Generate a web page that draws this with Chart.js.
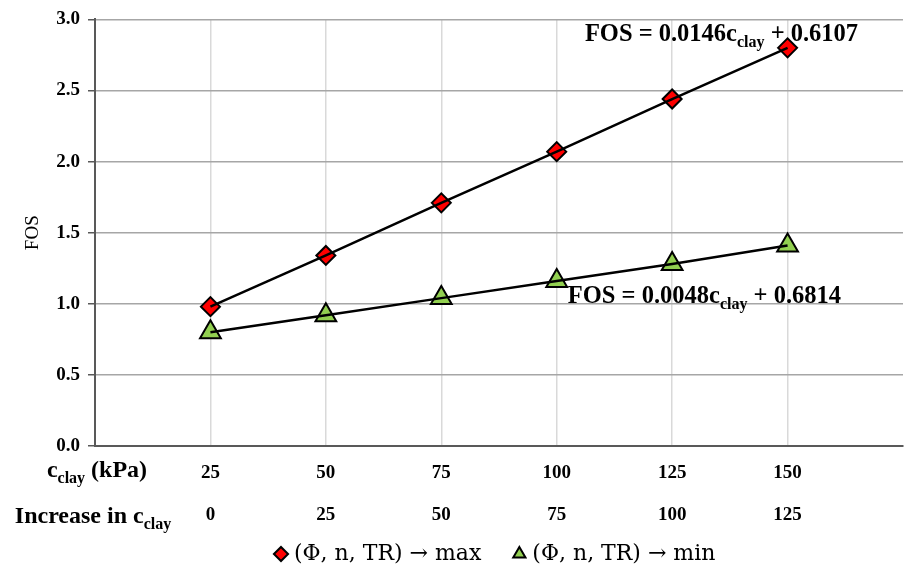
<!DOCTYPE html>
<html><head><meta charset="utf-8">
<script src="https://cdn.jsdelivr.net/npm/chart.js@4"></script>
<style>html,body{margin:0;padding:0;background:#fff;overflow:hidden}</style>
</head><body>
<canvas id="c" width="904" height="569"></canvas>
<script>
// ---- data ----
const cClay = [25, 50, 75, 100, 125, 150];
const increaseInCClay = [0, 25, 50, 75, 100, 125];
const fosMax = [0.98, 1.34, 1.71, 2.07, 2.44, 2.80];
const fosMin = [0.80, 0.92, 1.04, 1.16, 1.28, 1.41];
const yTickValues = [0, 0.5, 1.0, 1.5, 2.0, 2.5, 3.0];
const seriesNames = ['(Φ, n, TR) → max', '(Φ, n, TR) → min'];
const yTitle = 'FOS';
const eqMaxParts = ['FOS = 0.0146c', 'clay', ' + 0.6107'];
const eqMinParts = ['FOS = 0.0048c', 'clay', ' + 0.6814'];
const row1Parts = ['c', 'clay', ' (kPa)'];
const row2Parts = ['Increase in c', 'clay', ''];
// anchors of equation labels in data units
const eqMaxAnchor = {x: 106.1, y: 2.848};
const eqMinAnchor = {x: 102.4, y: 1.003};

const FF = '"Liberation Serif", "Times New Roman", serif';
const FL = '"DejaVu Serif", "Liberation Serif", serif';
const step = cClay[1] - cClay[0];
const xMin = cClay[0] - step, xMax = cClay[cClay.length - 1] + step;

function pts(ys) { return cClay.map((x, i) => ({x: x, y: ys[i]})); }

function drawRich(ctx, parts, x, y, align, bold, big, small, dy) {
  const w = bold ? 'bold ' : '';
  const fonts = [w + big + 'px ' + FF, w + small + 'px ' + FF, w + big + 'px ' + FF];
  const offs = [0, dy, 0];
  let total = 0;
  const widths = parts.map((t, i) => { ctx.font = fonts[i]; const m = ctx.measureText(t).width; total += m; return m; });
  let cx = align === 'center' ? x - total / 2 : x;
  ctx.textAlign = 'left';
  ctx.textBaseline = 'alphabetic';
  parts.forEach((t, i) => { ctx.font = fonts[i]; ctx.fillText(t, cx, y + offs[i]); cx += widths[i]; });
}

const annot = {
  id: 'annot',
  afterLayout(chart) {
    const lg = chart.legend;
    if (!lg) return;
    const pad = lg.options.labels.padding;
    const startX = (lg.left + pad + lg.right - lg.lineWidths[0]) / 2;
    const dx = 279 - startX;
    const fs = lg.options.labels.font.size;
    const dy = 554 - (lg.top + pad + fs / 2);
    lg.left += dx; lg.right += dx; lg.top += dy; lg.bottom += dy;
  },
  beforeDatasetsDraw(chart) {
    const {ctx, scales: {x, y}} = chart;
    ctx.save();
    ctx.fillStyle = '#000';
    drawRich(ctx, eqMaxParts, x.getPixelForValue(eqMaxAnchor.x), y.getPixelForValue(eqMaxAnchor.y), 'left', true, 24.5, 16, 6);
    drawRich(ctx, eqMinParts, x.getPixelForValue(eqMinAnchor.x), y.getPixelForValue(eqMinAnchor.y), 'left', true, 24.5, 16, 6);
    ctx.restore();
  },
  afterDraw(chart) {
    const {ctx, chartArea} = chart;
    ctx.save();
    ctx.fillStyle = '#000';
    drawRich(ctx, row1Parts, chartArea.left + 2, chartArea.bottom + 31, 'center', true, 24, 16, 6);
    drawRich(ctx, row2Parts, chartArea.left - 2, chartArea.bottom + 77, 'center', true, 24, 16, 6);
    ctx.restore();
  }
};

new Chart(document.getElementById('c'), {
  type: 'line',
  data: {
    datasets: [
      {label: seriesNames[0] + '    ', data: pts(fosMax), showLine: false, pointStyle: 'rectRot', pointRadius: 9.5, pointHoverRadius: 9.5,
       backgroundColor: '#ff0000', borderColor: '#000', pointBorderWidth: 2, borderWidth: 2, order: 1},
      {label: seriesNames[1], data: pts(fosMin), showLine: false, pointStyle: 'triangle', pointRadius: 12, pointHoverRadius: 12,
       backgroundColor: '#92d050', borderColor: '#000', pointBorderWidth: 2, borderWidth: 2, order: 1},
      {label: 'trend max', data: pts(fosMax), showLine: true, pointRadius: 0, borderColor: '#000', borderWidth: 2.5, fill: false, tension: 0, order: 0},
      {label: 'trend min', data: pts(fosMin), showLine: true, pointRadius: 0, borderColor: '#000', borderWidth: 2.5, fill: false, tension: 0, order: 0}
    ]
  },
  options: {
    responsive: false,
    devicePixelRatio: 1,
    animation: false,
    layout: {autoPadding: false, padding: {top: 15, right: 1, left: 0, bottom: 0}},
    plugins: {
      tooltip: {enabled: false},
      legend: {
        position: 'bottom',
        labels: {
          filter: (item) => item.datasetIndex < 2,
          usePointStyle: true, boxWidth: 4, boxHeight: 10, padding: 8,
          color: '#000', font: {family: FL, size: 22}
        }
      }
    },
    scales: {
      x: {
        type: 'linear', min: xMin, max: xMax,
        afterBuildTicks: (s) => { s.ticks = [xMin].concat(cClay, [xMax]).map(v => ({value: v})); },
        afterFit: (s) => {
          const lh = s.chart.legend ? s.chart.legend.height : 0;
          s.height = 569 - 446 - lh;
          s.paddingLeft = 0; s.paddingRight = 0;
        },
        ticks: {
          autoSkip: false, maxRotation: 0, padding: 6, color: '#000',
          font: {family: FF, size: 19, weight: 'bold', lineHeight: '42px'},
          callback: (v) => { const i = cClay.indexOf(v); return i < 0 ? '' : [String(cClay[i]), String(increaseInCClay[i])]; }
        },
        grid: {
          drawTicks: false, lineWidth: 1.5,
          color: (c) => (c.tick && cClay.indexOf(c.tick.value) >= 0) ? '#d9d9d9' : 'rgba(0,0,0,0)'
        },
        border: {display: true, color: '#595959', width: 2}
      },
      y: {
        type: 'linear', min: yTickValues[0], max: yTickValues[yTickValues.length - 1],
        afterBuildTicks: (s) => { s.ticks = yTickValues.map(v => ({value: v})); },
        afterFit: (s) => { s.width = 95; },
        ticks: {padding: 8, color: '#000', font: {family: FF, size: 19, weight: 'bold'}, callback: (v) => Number(v).toFixed(1)},
        grid: {
          drawTicks: true, tickLength: 7, tickColor: '#595959', lineWidth: 1.5,
          color: (c) => (c.tick && c.tick.value === 0) ? 'rgba(0,0,0,0)' : '#a6a6a6'
        },
        border: {display: true, color: '#595959', width: 2},
        title: {display: true, text: yTitle, color: '#000', font: {family: FF, size: 19}, padding: {top: 22, bottom: 0}}
      }
    }
  },
  plugins: [annot]
});
</script>
</body></html>
